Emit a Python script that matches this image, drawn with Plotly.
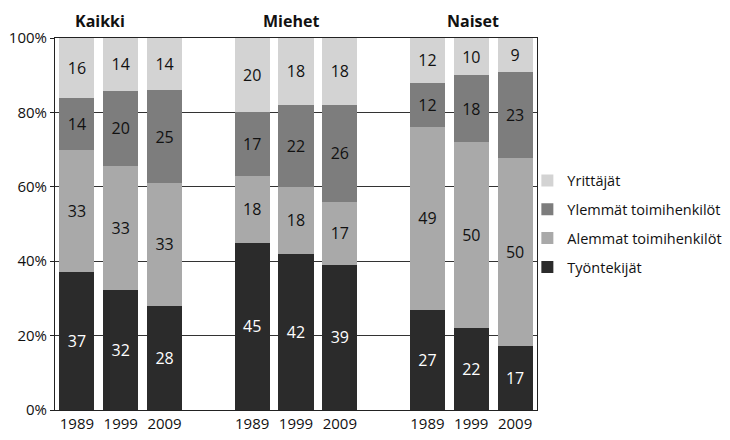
import plotly.graph_objects as go

groups = ["Kaikki", "Miehet", "Naiset"]
years = ["1989", "1999", "2009"]
positions = [0, 1, 2, 4, 5, 6, 8, 9, 10]
tick_labels = years * 3

tyontekijat = [37, 32, 28, 45, 42, 39, 27, 22, 17]
alemmat = [33, 33, 33, 18, 18, 17, 49, 50, 50]
ylemmat = [14, 20, 25, 17, 22, 26, 12, 18, 23]
yrittajat = [16, 14, 14, 20, 18, 18, 12, 10, 9]

series = [
    ("Työntekijät", tyontekijat, "#2b2b2b", "white", 4),
    ("Alemmat toimihenkilöt", alemmat, "#a9a9a9", "#111", 3),
    ("Ylemmät toimihenkilöt", ylemmat, "#7d7d7d", "#111", 2),
    ("Yrittäjät", yrittajat, "#d3d3d3", "#111", 1),
]

fig = go.Figure()
for name, vals, col, tcol, rank in series:
    fig.add_trace(go.Bar(
        x=positions, y=vals, name=name, legendgroup=name, legendrank=rank,
        marker=dict(color=col, line_width=0),
        width=0.8,
        text=[str(v) for v in vals],
        textposition="inside", insidetextanchor="middle",
        textfont=dict(color=tcol, size=16, family="Open Sans"),
        textangle=0,
    ))

title_x = [0.52, 4.89, 9.05]
for g, gx in zip(groups, title_x):
    fig.add_annotation(x=gx, y=1, xref="x", yref="paper", yanchor="bottom",
                       yshift=4, text="<b>" + g + "</b>", showarrow=False,
                       font=dict(size=16, family="Open Sans", color="#111"))

fig.update_layout(
    width=730, height=440,
    barmode="stack", barnorm="percent",
    paper_bgcolor="white", plot_bgcolor="white",
    margin=dict(l=55, r=193, t=38, b=30, autoexpand=False),
    font=dict(family="Open Sans", size=15, color="#111"),
    legend=dict(x=0.98, y=0.66, xanchor="left", yanchor="top",
                traceorder="grouped", font=dict(size=14.5),
                bgcolor="rgba(0,0,0,0)",
                itemwidth=30, tracegroupgap=7),
    showlegend=True,
)
fig.update_xaxes(range=[-0.5, 10.5], tickvals=positions, ticktext=tick_labels,
                 showgrid=False, showline=True, linecolor="#222", linewidth=1,
                 mirror=True, ticks="", tickfont=dict(size=15), automargin=False)
fig.update_yaxes(range=[0, 100], dtick=20, ticksuffix="%", showgrid=True,
                 gridcolor="#333", gridwidth=1, showline=True, linecolor="#222",
                 linewidth=1, mirror=True, ticks="outside", ticklen=4,
                 tickcolor="#222", tickfont=dict(size=15), zeroline=False,
                 automargin=False)

fig.write_html("out.html", config={"displayModeBar": False},
               post_script="document.body.style.margin='0';")
